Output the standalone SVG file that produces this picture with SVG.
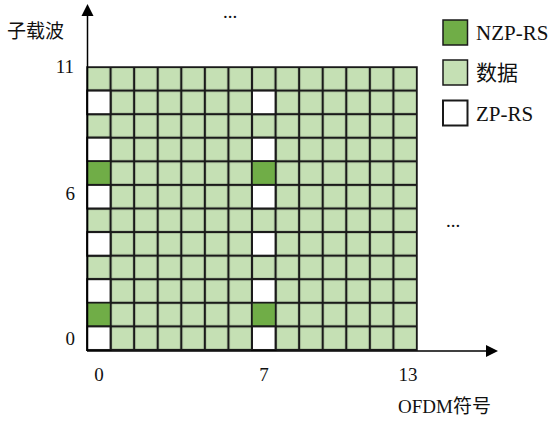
<svg xmlns="http://www.w3.org/2000/svg" width="555" height="421" viewBox="0 0 555 421">
<style>
.t{font-family:"Liberation Serif","Noto Sans CJK SC",serif;font-size:19px;fill:#111}
.c{font-family:"Liberation Serif","Noto Sans CJK SC",serif;font-size:19px;fill:#111}
.lg{font-family:"Liberation Serif","Noto Sans CJK SC",serif;font-size:21px;fill:#111}
.d{fill:#C5E0B4;stroke:#1a1a1a;stroke-width:1.5}
.n{fill:#70AD47;stroke:#1a1a1a;stroke-width:1.5}
.z{fill:#ffffff;stroke:#1a1a1a;stroke-width:2}
.ax{stroke:#000;stroke-width:1.5;fill:none}
</style>
<defs>
<pattern id="grid" x="87" y="67" width="23.57" height="23.58" patternUnits="userSpaceOnUse">
<rect x="0" y="0" width="23.57" height="23.58" fill="#C5E0B4" stroke="#1a1a1a" stroke-width="2.2"/>
</pattern>
</defs>
<g id="grid-data">
<rect x="87" y="67" width="330" height="283" fill="url(#grid)"/>
<rect x="87" y="67" width="330" height="283" fill="none" stroke="#1a1a1a" stroke-width="1.5"/>
</g>
<g id="col0">
<rect class="z" x="87" y="90.6" width="23.57" height="23.58"/>
<rect class="z" x="87" y="137.7" width="23.57" height="23.58"/>
<rect class="n" x="87" y="161.3" width="23.57" height="23.58"/>
<rect class="z" x="87" y="184.9" width="23.57" height="23.58"/>
<rect class="z" x="87" y="232.1" width="23.57" height="23.58"/>
<rect class="z" x="87" y="279.2" width="23.57" height="23.58"/>
<rect class="n" x="87" y="302.8" width="23.57" height="23.58"/>
<rect class="z" x="87" y="326.4" width="23.57" height="23.58"/>
</g>
<g id="col7">
<rect class="z" x="252" y="90.6" width="23.57" height="23.58"/>
<rect class="z" x="252" y="137.7" width="23.57" height="23.58"/>
<rect class="n" x="252" y="161.3" width="23.57" height="23.58"/>
<rect class="z" x="252" y="184.9" width="23.57" height="23.58"/>
<rect class="z" x="252" y="232.1" width="23.57" height="23.58"/>
<rect class="z" x="252" y="279.2" width="23.57" height="23.58"/>
<rect class="n" x="252" y="302.8" width="23.57" height="23.58"/>
<rect class="z" x="252" y="326.4" width="23.57" height="23.58"/>
</g>
<g id="axes">
<line class="ax" x1="87.5" y1="351" x2="87.5" y2="14"/>
<polygon points="87.5,4 81.5,16 93.5,16" fill="#000"/>
<line class="ax" x1="87" y1="351" x2="489" y2="351"/>
<polygon points="498,351 486,345 486,357" fill="#000"/>
</g>
<g id="labels">
<text class="c" x="7" y="38" font-size="20">子载波</text>
<text class="t" x="74" y="73" text-anchor="end">11</text>
<text class="t" x="75" y="200" text-anchor="end">6</text>
<text class="t" x="75" y="345" text-anchor="end">0</text>
<text class="t" x="99" y="381" text-anchor="middle">0</text>
<text class="t" x="264" y="381" text-anchor="middle">7</text>
<text class="t" x="408" y="381" text-anchor="middle">13</text>
<text class="c" x="398" y="413" font-size="21">OFDM符号</text>
<text class="t" x="230" y="18" text-anchor="middle">...</text>
<text class="t" x="453" y="227" text-anchor="middle">...</text>
</g>
<g id="legend">
<rect class="n" x="443" y="20" width="24.5" height="25"/>
<text class="lg" x="476" y="40">NZP-RS</text>
<rect class="d" x="443" y="60" width="24.5" height="25"/>
<text class="lg" x="476" y="80">数据</text>
<rect class="z" x="443" y="100.5" width="24.5" height="25"/>
<text class="lg" x="476" y="121">ZP-RS</text>
</g>
</svg>
